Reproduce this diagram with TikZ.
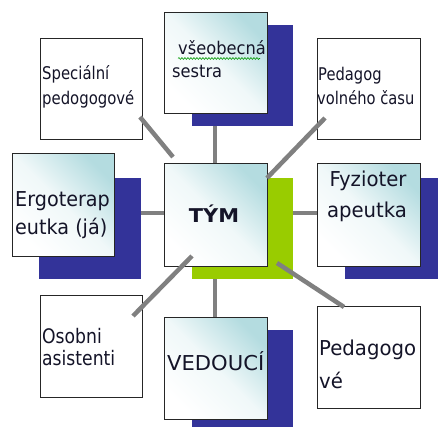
\documentclass[tikz,border=0pt]{standalone}
\usepackage{fontspec}
\setmainfont{DejaVu Sans}
\usetikzlibrary{decorations.pathmorphing}
\definecolor{shblue}{RGB}{51,51,153}
\definecolor{shgreen}{RGB}{153,204,0}
\definecolor{teal1}{RGB}{180,220,224}
\definecolor{conngray}{RGB}{128,128,128}
\definecolor{txtc}{RGB}{20,20,40}
\newcommand{\sxb}[2]{\scalebox{#1}[1]{#2}}
\begin{document}
\begin{tikzpicture}[x=1pt,y=1pt,
  box/.style={draw=black!85, line width=1.3pt, inner sep=0pt, anchor=north west},
  plainbox/.style={box, fill=white},
  gradbox/.style={box, shading=axis, top color=teal1, bottom color=white, middle color=teal1!20!white, shading angle=-45},
  shb/.style={fill=shblue, draw=none, inner sep=0pt, anchor=north west},
  shg/.style={fill=shgreen, draw=none, inner sep=0pt, anchor=north west},
  conn/.style={draw=conngray, line width=4.5pt},
  txt/.style={inner sep=0pt, anchor=base west, text=txtc},
  ctxt/.style={inner sep=0pt, anchor=base, text=txtc},
  fa/.style={font=\fontsize{17.5}{21}\selectfont},
  fb/.style={font=\fontsize{20.5}{24}\selectfont},
]
\useasboundingbox (0,0) rectangle (438,-427);
\clip (0,0) rectangle (438,-427);
\fill[white] (0,0) rectangle (438,-427);

% shadows
\node[shb, minimum width=101, minimum height=101] (vsS) at (192,-25) {};
\node[shb, minimum width=102, minimum height=101] (erS) at (39,-178) {};
\node[shg, minimum width=101, minimum height=101] (tyS) at (192,-178) {};
\node[shb, minimum width=101, minimum height=101] (fyS) at (345,-178) {};
\node[shb, minimum width=101, minimum height=101] (veS) at (192,-330) {};

% boxes
\node[plainbox, minimum width=102, minimum height=101] (spec) at (40,-38) {};
\node[gradbox, minimum width=103, minimum height=101] (vseo) at (164,-12) {};
\node[plainbox, minimum width=103, minimum height=101] (pvc) at (317,-38) {};
\node[gradbox, minimum width=102, minimum height=103] (ergo) at (12,-153) {};
\node[gradbox, minimum width=103, minimum height=103] (tym) at (164,-163) {};
\node[gradbox, minimum width=103, minimum height=103] (fyz) at (317,-163) {};
\node[plainbox, minimum width=102, minimum height=102] (osob) at (40,-295) {};
\node[gradbox, minimum width=103, minimum height=102] (ved) at (164,-317) {};
\node[plainbox, minimum width=103, minimum height=102] (ped) at (317,-306) {};

% texts
\node[txt, fa] (spec1) at (42,-80) {\sxb{0.85}{Speciální}};
\node[txt, fa] (spec2) at (42,-105) {\sxb{0.85}{pedogogové}};
\node[txt, fa] (vs1) at (178,-55) {\sxb{0.93}{všeobecná}};
\node[txt, fa] (vs2) at (172,-78) {\sxb{0.93}{sestra}};
\draw[draw=green!60!black, line width=0.6pt, decorate, decoration={snake, amplitude=0.9pt, segment length=3pt}] (vs1.base west) ++(0,-3.5) -- ++(82,0);
\node[txt, fa] (pvc1) at (318,-81) {\sxb{0.84}{Pedagog}};
\node[txt, fa] (pvc2) at (317,-105) {\sxb{0.84}{volného času}};
\node[txt, fb] (ergo1) at (15,-207) {\sxb{0.935}{Ergoterap}};
\node[txt, fb] (ergo2) at (15,-235) {\sxb{0.935}{eutka (já)}};
\node[ctxt, font=\fontsize{19}{22}\selectfont\bfseries] (tymt) at (214,-223) {\sxb{1.1}{TÝM}};
\node[ctxt, fb] (fyz1) at (368,-187) {\sxb{0.96}{Fyzioter}};
\node[ctxt, fb] (fyz2) at (367,-218) {\sxb{0.96}{apeutka}};
\node[txt, font=\fontsize{20}{24}\selectfont] (osob1) at (42,-343) {\sxb{0.86}{Osobni}};
\node[txt, font=\fontsize{20}{24}\selectfont] (osob2) at (42,-365) {\sxb{0.86}{asistenti}};
\node[txt, fb] (vedt) at (167,-370) {\sxb{1.03}{VEDOUCÍ}};
\node[txt, fb] (ped1) at (319,-355) {\sxb{0.96}{Pedagogo}};
\node[txt, fb] (ped2) at (319,-388) {\sxb{0.96}{vé}};

% connector end points
\coordinate (c1a) at (140,-117); \coordinate (c1b) at (173,-157);
\coordinate (c2a) at (215,-126); \coordinate (c2b) at (215,-163);
\coordinate (c3a) at (325,-118); \coordinate (c3b) at (267,-178);
\coordinate (c4a) at (141,-213); \coordinate (c4b) at (164,-213);
\coordinate (c5a) at (293,-213); \coordinate (c5b) at (317,-213);
\coordinate (c6a) at (133,-316); \coordinate (c6b) at (192,-256);
\coordinate (c7a) at (215,-279); \coordinate (c7b) at (215,-317);
\coordinate (c8a) at (277,-263); \coordinate (c8b) at (344,-307);

\draw[conn] (c1a) -- (c1b);
\draw[conn] (c2a) -- (c2b);
\draw[conn] (c3a) -- (c3b);
\draw[conn] (c4a) -- (c4b);
\draw[conn] (c5a) -- (c5b);
\draw[conn] (c6a) -- (c6b);
\draw[conn] (c7a) -- (c7b);
\draw[conn] (c8a) -- (c8b);
\end{tikzpicture}
\end{document}
